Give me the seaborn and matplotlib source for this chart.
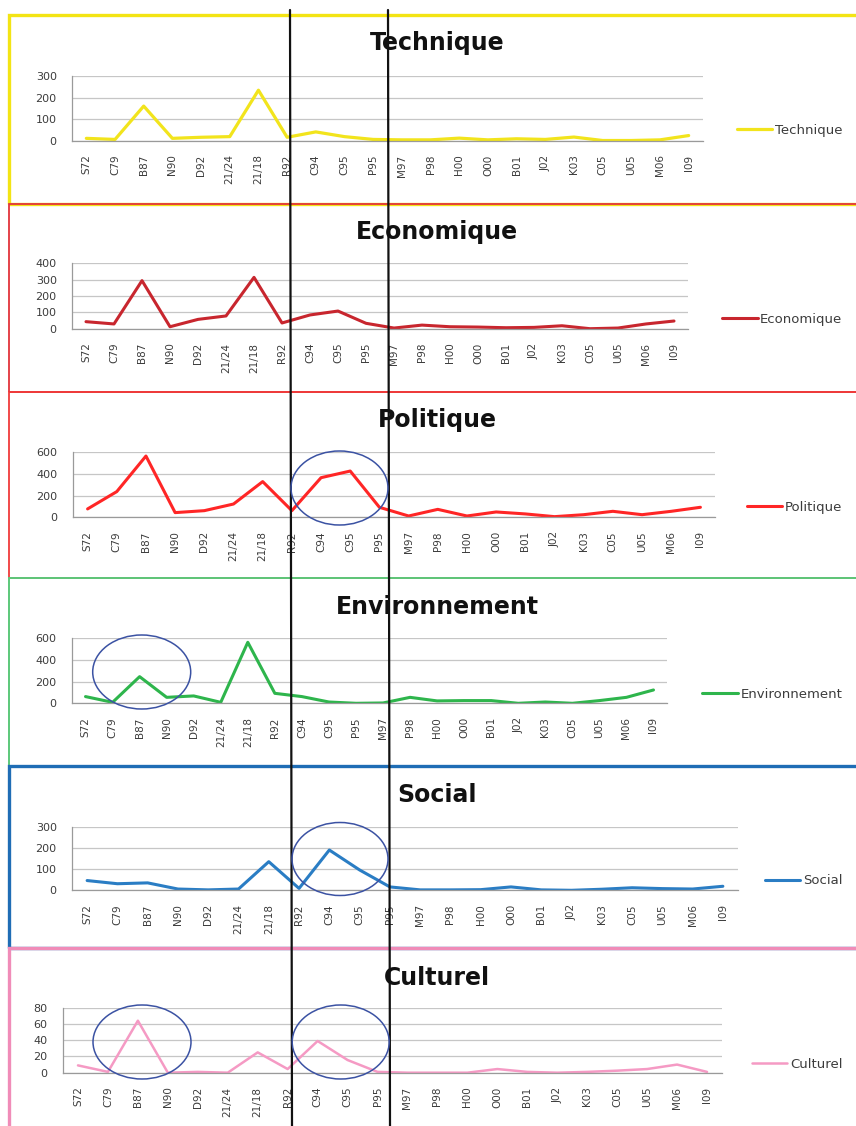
import matplotlib
matplotlib.use("Agg")
import matplotlib.pyplot as plt
from matplotlib.patches import Rectangle, Ellipse
from matplotlib.lines import Line2D
import numpy as np
import pandas as pd
import seaborn as sns

sns.set_style("white")
plt.rcParams["font.family"] = ["DejaVu Sans"]

# ---- data -------------------------------------------------------------
categories = ["S72", "C79", "B87", "N90", "D92", "21/24", "21/18", "R92", "C94", "C95", "P95",
              "M97", "P98", "H00", "O00", "B01", "J02", "K03", "C05", "U05", "M06", "I09"]

technique = [10, 5, 160, 10, 15, 18, 234, 15, 40, 18, 5, 3, 3, 11, 3, 8, 5, 16, 0, 0, 3, 23]
economique = [43, 29, 294, 12, 57, 78, 314, 35, 84, 108, 33, 4, 22, 12, 10, 6, 8, 18, 0, 4, 29, 47]
politique = [77, 236, 563, 43, 61, 122, 328, 61, 364, 425, 92, 12, 73, 12, 49, 31, 6, 24, 55, 24, 55, 92]
environnement = [62, 9, 246, 55, 68, 9, 563, 92, 62, 12, 0, 3, 55, 22, 25, 25, 0, 12, 0, 25, 55, 123]
social = [46, 31, 35, 6, 2, 6, 135, 9, 190, 96, 16, 2, 2, 3, 16, 2, 0, 5, 12, 8, 6, 19]
culturel = [9, 1, 64, 0, 1, 0, 25, 4.5, 39, 15.6, 1, 0, 0, 0, 4.5, 1, 0, 1, 2.5, 4.5, 10, 1]

titles = ["Technique", "Economique", "Politique", "Environnement", "Social", "Culturel"]
series = [technique, economique, politique, environnement, social, culturel]
y_max = [300, 400, 600, 600, 300, 80]
y_step = [100, 100, 200, 200, 100, 20]

# ---- styling ----------------------------------------------------------
W, H = 856, 1126
line_colors = ["#f2e41c", "#c8262e", "#ff2626", "#2eb54c", "#2a7dc4", "#f59ac4"]
frame_colors = ["#f3e414", "#e2343c", "#f03a3a", "#5cc87a", "#1f6db5", "#f08cb8"]
frame_widths = [2.4, 1.3, 1.3, 1.4, 2.4, 2.4]
frame_tops = [15, 204, 392, 578, 766, 948, 1140]
line_widths = [2.3, 2.2, 2.2, 2.2, 2.2, 1.8]

# axes boxes in pixels: left, right, top gridline, zero line
boxes = [(72, 703, 76, 140.5), (72, 688, 263.3, 328.7), (73, 715, 452, 517.3),
         (72, 667, 638.3, 703.3), (72, 738, 826.7, 890.3), (63, 722, 1007.7, 1072.7)]
title_pos = [(437, 43), (437, 232), (437, 420), (437, 607), (437, 795), (437, 978)]
legend_y = [130.5, 319, 507, 694, 881, 1064]

grey = "#9a9a9a"
text_grey = "#3c3c3c"

fig = plt.figure(figsize=(W / 100, H / 100), dpi=100)
fig.patch.set_facecolor("white")

def fx(px):
    return px / W

def fy(py):
    return 1 - py / H

# panel frames
for i in range(6):
    top, bot = frame_tops[i], frame_tops[i + 1]
    rect = Rectangle((fx(9), fy(bot)), fx(880), (bot - top) / H, transform=fig.transFigure,
                     fill=False, edgecolor=frame_colors[i], linewidth=frame_widths[i], zorder=0)
    fig.add_artist(rect)

x = np.arange(len(categories))
for i in range(6):
    x0, x1, yt, yb = boxes[i]
    ax = fig.add_axes([fx(x0), fy(yb), (x1 - x0) / W, (yb - yt) / H])
    df = pd.DataFrame({"pos": x, "value": series[i]})
    sns.lineplot(data=df, x="pos", y="value", ax=ax, color=line_colors[i],
                 linewidth=line_widths[i], sort=False, label=titles[i])
    ax.set_xlim(-0.5, len(categories) - 0.5)
    ax.set_ylim(0, y_max[i])
    ax.set_xlabel("")
    ax.set_ylabel("")
    ax.set_yticks(np.arange(0, y_max[i] + 1, y_step[i]))
    ax.set_xticks(x)
    ax.set_xticklabels(categories, rotation=90)
    ax.set_xticks(np.arange(-0.5, len(categories), 1), minor=True)
    ax.tick_params(axis="x", which="major", length=0, pad=10, labelsize=7.5, labelcolor=text_grey)
    ax.tick_params(axis="x", which="minor", length=4, width=0.8, color=grey, direction="out")
    ax.tick_params(axis="y", which="major", length=3, width=0.8, color=grey, direction="out",
                   pad=8, labelsize=8, labelcolor=text_grey)
    ax.yaxis.grid(True, color="#c6c6c6", linewidth=0.9)
    ax.xaxis.grid(False)
    ax.set_axisbelow(True)
    for side in ("top", "right"):
        ax.spines[side].set_visible(False)
    for side in ("left", "bottom"):
        ax.spines[side].set_color(grey)
        ax.spines[side].set_linewidth(0.9)
    ax.legend(loc="center right", bbox_to_anchor=(fx(849), fy(legend_y[i])),
              bbox_transform=fig.transFigure, frameon=False, borderpad=0,
              handlelength=2.7, handletextpad=0.2, fontsize=9.5, labelcolor=text_grey)
    fig.text(fx(title_pos[i][0]), fy(title_pos[i][1]), titles[i], ha="center", va="center",
             fontsize=17, fontweight="bold", color="#111111", zorder=5)

# period markers crossing all panels
fig.add_artist(Line2D([fx(290), fx(292)], [fy(10), fy(H)], transform=fig.transFigure,
                      color="#111111", linewidth=1.6, zorder=10))
fig.add_artist(Line2D([fx(388), fx(390)], [fy(10), fy(H)], transform=fig.transFigure,
                      color="#111111", linewidth=1.6, zorder=10))

# highlighted zones
highlights = [(339.5, 488, 97, 74), (141.7, 672, 98, 74), (340, 859, 96, 73),
              (142, 1042, 98, 74), (340.7, 1042, 97, 74)]
for cx, cy, w, h in highlights:
    fig.add_artist(Ellipse((fx(cx), fy(cy)), w / W, h / H, transform=fig.transFigure,
                           fill=False, edgecolor="#3b52a3", linewidth=1.1, zorder=11))

fig.savefig("out.png", dpi=100)
